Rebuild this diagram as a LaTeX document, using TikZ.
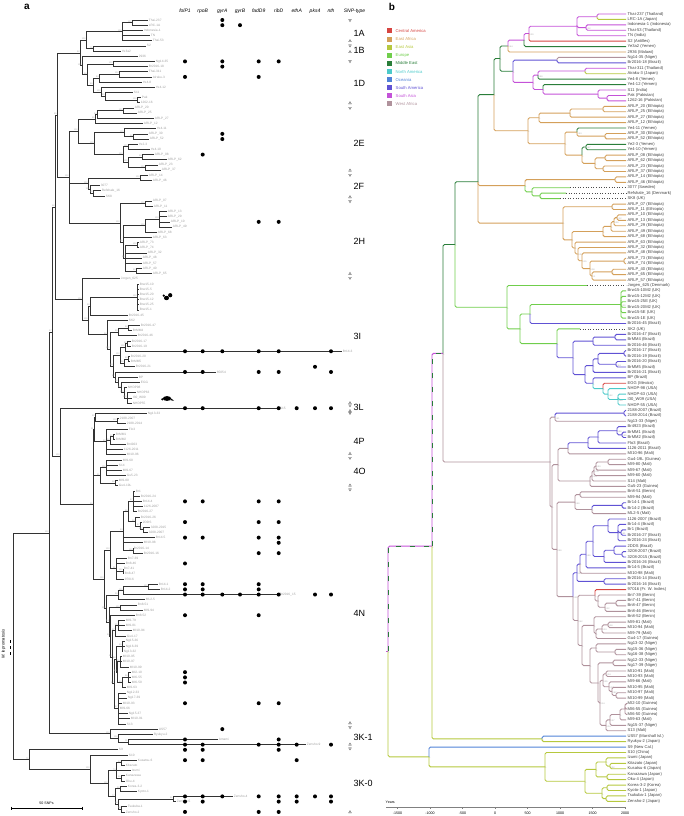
\documentclass[tikz,border=0pt]{standalone}
\usepackage{fontspec}
\setmainfont{Liberation Sans}
\usetikzlibrary{calc}

\definecolor{cam}{RGB}{214,69,65}
\definecolor{eaf}{RGB}{212,160,90}
\definecolor{eas}{RGB}{182,200,62}
\definecolor{eur}{RGB}{112,206,76}
\definecolor{mea}{RGB}{42,126,58}
\definecolor{nam}{RGB}{76,202,202}
\definecolor{oce}{RGB}{80,130,215}
\definecolor{sam}{RGB}{96,82,212}
\definecolor{sas}{RGB}{196,82,216}
\definecolor{waf}{RGB}{176,146,156}

\begin{document}
\begin{tikzpicture}
  [
    x=1pt, y=-1pt,
    panel/.style   = {font=\bfseries\fontsize{10}{12}\selectfont, inner sep=0pt},
    abranch/.style = {draw=black!80, line width=0.7pt},
    asup/.style    = {anchor=south east, font=\fontsize{2.2}{2.5}\selectfont, text=gray!70, inner sep=0.2pt},
    atip/.style    = {anchor=west, font=\fontsize{3.2}{3.5}\selectfont, text=gray!75, inner sep=0.7pt},
    gene/.style    = {font=\itshape\fontsize{5}{6}\selectfont, inner sep=0pt},
    snptype/.style = {anchor=west, font=\fontsize{9}{10}\selectfont, inner sep=0pt},
    snpmark/.style = {draw=gray!60!black, fill=gray!35, line width=0.2pt},
    bbranch/.style = {line width=0.9pt, rounded corners=1.5pt},
    bsup/.style    = {anchor=north west, font=\fontsize{2.2}{2.5}\selectfont, text=gray!70, inner sep=0.2pt},
    btip/.style    = {anchor=west, font=\fontsize{4.1}{4.5}\selectfont, text=black!75, inner sep=0.3pt},
    bdots/.style   = {dotted, line width=0.6pt, black!70},
    legbox/.style  = {minimum size=5pt, inner sep=0pt},
    legtext/.style = {anchor=west, font=\fontsize{4.2}{5}\selectfont, inner sep=0pt},
  ]

  \useasboundingbox (0,0) rectangle (683,816);

  % ================= panel a =================
  \node[panel] (a-tag) at (27,7) {a};

  % SNP columns
  \def\xfol{185}
  \def\xrpo{202.7}
  \def\xgya{222.3}
  \def\xgyb{240}
  \def\xfad{258.7}
  \def\xrib{278.7}
  \def\xeth{296.7}
  \def\xpks{315}
  \def\xnth{331}
  \foreach \xx/\gg in {\xfol/folP1, \xrpo/rpoB, \xgya/gyrA, \xgyb/gyrB, \xfad/fadD9, \xrib/ribD, \xeth/ethA, \xpks/pks4, \xnth/nth}
    \node[gene] (a-h\gg) at (\xx,11) {\gg};
  \node[gene] (a-htype) at (354.5,11) {SNP-type};

  % root and outgroup
  \coordinate (a-R) at (13,{20+5.176*121});
  \draw[dashed, line width=0.6pt] (10,640) -- (10,655);
  \node[rotate=90, font=\itshape\fontsize{4.2}{5}\selectfont, inner sep=0pt] (a-out) at (3.5,644) {M. lepromatosis};

  % internal nodes: name/parent/x/row/bootstrap
  \foreach \nn/\pp/\xx/\rr/\bs in {
    Nmain/R/49/99.1/100, X/Nmain/52/60.25/97, B12I/X/55/36.2/98, B12/B12I/57/18.35/95,
    B1/B12/80/6.35/92, n1AB/B1/86/3.9/100, n1A/n1AB/122/2.25/100, nTL/n1A/132/0.5/100,
    n1B/n1AB/93/5.5/79, n1D/B1/82/8.8/100, n1Db/n1D/87/10.55/98, nNg/n1Db/113/8.5/100,
    n1Dc/n1Db/93/12.6/88, nTA8/n1Dc/99/11.25/94, nTA/nTA8/119/10.5/100, nYe12/n1Dc/101/13.9/100,
    nS11/nYe12/105/14.75/99, nPak/nS11/137/15.5/100,
    B2/B12/69/30.35/100, n2E/B2/78/21.5/100, n2E2/n2E/95/19.1/95, n2E1/n2E2/97/18.25/94,
    n2025/n2E1/123/17.5/100, nA2/n2E/94/23.9/100, nYe11/nA2/124/21.75/100, n3052/nYe11/133/22.5/99,
    nA3/nA2/123/26/100, nYe23/nA3/128/24.5/100, nA4/nA3/128/27.5/100, n0862/nA4/142/26.5/98,
    n2337/nA4/145/28.5/100, n2F/B2/88/31.6/100, nA1446/n2F/140/30.5/100, nAnc/n2F/90/32.75/100,
    nRS/nAnc/93/33.5/99, n2H/B2/120/39.2/100, n0711/n2H/145/35.5/100, nH2/n2H/123/42.9/98,
    n68/nH2/145/39.75/100, n1349/n68/159/38.5/100, nH3/nH2/125/46/98, n7374/nH3/137/43.5/100,
    n4065/nH3/136/48.5/99,
    n3I/B12I/82/54/100, n3Ib/n3I/88/58/100, nBrw45/n3Ib/90/55.25/99, nBrw/nBrw45/137/53.5/100,
    nSK2/n3Ib/107/60.8/98, nBrz/nSK2/110/63.6/100, n46/nBrz/118/60.25/99, n47MM4/n46/128/59.5/99,
    nBrz2/nBrz/113/66.9/99, nBrz1/nBrz2/120/64.75/100, n143/nBrz1/125/63.25/100, n1719/n143/127/62.5/99,
    n21/nBrz1/124/66.25/96, n20MM5/n21/128/65.5/99, n85/nBrz2/115/69/97, nBP/n85/118/70/99,
    nEGG/nBP/121/71/99, nNH/nEGG/124/72/100, nNH2/nNH/127/73/100,
    B34/X/60/84.3/100, n4/B34/93/93.6/95, n4P/n4/94/79.1/91, nP1/n4P/95/76.75/90,
    n2188/nP1/117/77.5/100, nP2/n4P/106/81.5/99, n4923/nP2/110/81.25/99, nMM12/n4923/113/80.5/90,
    n4O/n4/100/88/91, nO1/n4O/106/86.5/100, nO2/n4O/115/89.5/98,
    n4N/n4/104/108/100, nNup/n4N/110/102.4/100, nNc/nNup/123/98.75/93, nNab/nNc/128/95/98,
    nNa/nNab/133/93/97, nNb/nNab/135/96.9/99, nDDS/nNb/140/97.75/97, n3208/nDDS/143/98.5/100,
    n1416/nNc/133/102.5/100, nBn/nNup/116/106/91, n4147/nBn/123/106.5/100,
    nL10/n4N/106/113.7/100, nML/nL10/118/111.1/99, nBr15/nML/123/110.25/100, nBr12/nBr15/148/109.5/100,
    nL9/nL10/109/116.3/94, nB51/nL9/120/113.5/100, nL8/nL9/110/119.05/97, nL7/nL8/112/123.1/94,
    nL2/nL7/115/118/97, nL1/nL2/118/117/95, nL6/nL7/114/128.25/97, nL4/nL6/116/123.5/88,
    nNg3/nL4/122/121/95, nL3/nL4/117/126/94, nMI3/nL3/120/124/90, nMI63/nL3/122/128/99,
    nMI6/nMI63/128/127/99, nL5/nL6/118/133/97,
    n3K1/Nmain/110/137.9/100, nr/n3K1/118/138.75/100, nam/nr/128/139.5/11,
    n3K0all/R/29/142.9/75, n3K0/n3K0all/90/144.75/100, nk0/n3K0/108/147.5/100, nk1/nk0/116/145/74,
    nk2/nk1/121/143.5/94, nk3/nk1/121/146.5/55, nk4/nk0/115/150/77, nk5/nk4/120/148.5/99,
    nk6/nk4/118/151.5/98, nz/nk6/173/150.5/95, nk7/nk6/121/152.5/98}{
    \coordinate (a-\nn) at (\xx,{20+5.176*\rr});
    \draw[abranch] (a-\pp) |- (a-\nn);
    \node[asup] (a-s\nn) at (a-\nn) {\bs};
  }

  % tips: row/parent/x/label
  \foreach \rr/\pp/\xx/\lab in {
    0/nTL/148/Thai-237, 1/nTL/148/LRC-1A, 2/n1A/143/Indonesia-1, 3/n1A/150/TN, 4/n1A/152/Thai-53,
    5/n1B/146/S2, 6/n1B/121/Ye3a2, 7/n1D/138/2936, 8/nNg/155/Ng14-35, 9/nNg/148/Br2016-18,
    10/nTA/148/Thai-311, 11/nTA/152/Airaku-3, 12/nTA8/142/Ye4-8, 13/nYe12/155/Ye4-12, 14/nS11/133/S11,
    15/nPak/141/Pak, 16/nPak/140/1262-16, 17/n2025/134/ARLP\_20, 18/n2025/137/ARLP\_25,
    19/n2E1/154/ARLP\_27, 20/n2E2/143/ARLP\_12, 21/nYe11/156/Ye4-11, 22/n3052/148/ARLP\_30,
    23/n3052/149/ARLP\_52, 24/nYe23/138/Ye2-3, 25/nYe23/150/Ye4-10, 26/n0862/154/ARLP\_08,
    27/n0862/167/ARLP\_62, 28/n2337/158/ARLP\_23, 29/n2337/161/ARLP\_37, 30/nA1446/148/ARLP\_14,
    31/nA1446/152/ARLP\_46, 32/nAnc/100/3077, 33/nRS/101/Refshale\_16, 34/nRS/105/SK8,
    35/n0711/152/ARLP\_07, 36/n0711/153/ARLP\_11, 37/n1349/167/ARLP\_13, 38/n1349/167/ARLP\_29,
    39/n1349/170/ARLP\_10, 40/n1349/172/ARLP\_49, 41/n68/157/ARLP\_68, 42/nH2/152/ARLP\_63,
    43/n7374/139/ARLP\_73, 44/n7374/139/ARLP\_74, 45/nH3/147/ARLP\_32, 46/nH3/142/ARLP\_48,
    47/nH3/142/ARLP\_57, 48/n4065/142/ARLP\_40, 49/n4065/152/ARLP\_65, 50/n3I/120/Jorgen\_625,
    51/nBrw/139/Brw15-10, 52/nBrw/139/Brw15-5, 53/nBrw/139/Brw15-20, 54/nBrw/139/Brw15-12,
    55/nBrw/139/Brw15-25, 56/nBrw/139/Brw15-1, 57/nBrw45/128/Br2016-45, 58/nSK2/128/SK2,
    59/n47MM4/140/Br2016-47, 60/n47MM4/132/BrMM4, 61/n46/137/Br2016-46, 62/n1719/131/Br2016-17,
    63/n1719/131/Br2016-19, 64/n143/342/Br14-3, 65/n20MM5/130/Br2016-20, 66/n20MM5/130/BrMM5,
    67/n21/135/Br2016-21, 68/n85/216/85054, 69/nBP/138/BP, 70/nEGG/140/EGG, 71/nNH/127/NHDP98,
    72/nNH2/136/NHDP63, 73/nNH2/132/I30\_W09, 74/nNH2/132/NHDP55, 75/B34/279/S15,
    76/nP1/147/Ng13-33, 77/n2188/119/2188-2007, 78/n2188/126/2188-2014, 79/nP2/128/Flo3,
    80/nMM12/115/BrMM1, 81/nMM12/115/BrMM2, 82/n4923/126/Br4923, 83/nP2/123/1126-2011,
    84/nP2/126/MI10-96, 85/nO1/122/MI9-60, 86/nO1/118/S14, 87/nO1/122/MI9-67, 88/nO1/126/Gu5-23,
    89/nO2/118/MI9-80, 90/nO2/118/Gu4-19L, 91/nNa/135/Br1, 92/nNa/140/Br2016-24, 93/nNa/142/Br14-4,
    94/nNa/143/1126-2007, 95/nNa/137/Br2016-27, 96/nNb/140/Br2016-26, 97/nDDS/142/2DDS,
    98/n3208/150/3208-2015, 99/n3208/148/3208-2007, 100/nNc/155/Br14-5, 101/nNc/143/MI10-98,
    102/n1416/133/Br2016-14, 103/n1416/143/Br2016-16, 104/nBn/127/Bn7-39, 105/nBn/125/Bn8-46,
    106/n4147/123/Bn7-41, 107/n4147/124/Bn8-47, 108/nBn/124/97016, 109/nBr12/158/Br14-1,
    110/nBr12/160/Br14-2, 111/nBr15/279/Br2016\_15, 112/nML/145/ML2-5, 113/nB51/137/Bn8-51,
    114/nB51/143/MI9-94, 115/nL8/135/Bn8-52, 116/nL1/125/MI9-79, 117/nL1/125/MI9-81,
    118/nL1/132/MI10-94, 119/nL2/126/Gu4-17, 120/nNg3/125/Ng15-36, 121/nNg3/125/Ng16-39,
    122/nNg3/123/Ng13-32, 123/nMI3/122/MI10-95, 124/nMI3/122/MI10-97, 125/nMI3/129/MI10-99,
    126/nMI6/131/MI2-10, 127/nMI6/131/MI6-55, 128/nMI6/131/MI6-50, 129/nMI63/126/MI9-63,
    130/nL5/126/Ng12-33, 131/nL5/127/Ng17-39, 132/nL5/122/MI10-93, 133/nL5/119/MI9-66,
    134/nL5/128/Ng15-37, 135/nL5/130/MI10-91, 136/nL5/126/S13, 137/n3K1/158/US57,
    138/nr/153/Ryukyu-2, 139/nam/218/Amami, 140/nam/306/Zensho-9, 141/n3K0all/118/S9,
    142/n3K0/128/S10, 143/nk2/137/Kusatsu-6, 144/nk2/125/Kitazato, 145/nk1/131/Izumi,
    146/nk3/125/Kanazawa, 147/nk3/125/Oku-4, 148/nk5/127/Korea-3-2, 149/nk5/137/Kyoto-1,
    150/nz/233/Zensho-4, 151/nz/176/Zensho-5, 152/nk7/127/Tsukuba-1, 153/nk7/125/Zensho-2}{
    \coordinate (a-t\rr) at (\xx,{20+5.176*\rr});
    \draw[abranch] (a-\pp) |- (a-t\rr);
    \node[atip] (a-l\rr) at (a-t\rr) {\lab};
  }

  % mutations
  \foreach \rr/\cols in {
    0/{\xgya}, 1/{\xgya,\xgyb}, 8/{\xfol,\xgya,\xfad,\xrib}, 9/{\xgya}, 11/{\xfol,\xfad},
    22/{\xgya}, 23/{\xgya}, 26/{\xrpo}, 39/{\xfad,\xrib},
    64/{\xfol,\xrpo,\xgya,\xfad,\xrib,\xnth}, 67/{\xpks}, 68/{\xfol,\xrpo,\xfad,\xrib,\xnth},
    75/{\xfol,\xrpo,\xfad,\xrib,\xeth,\xpks,\xnth}, 93/{\xfol,\xrpo,\xfad,\xrib}, 97/{\xfol,\xfad,\xrib},
    100/{\xfol,\xrpo,\xfad,\xrib}, 101/{\xrib}, 103/{\xfad,\xrib}, 105/{\xfol},
    109/{\xfol,\xrpo,\xfad}, 110/{\xfol,\xrpo,\xfad}, 111/{\xfol,\xrpo,\xgya,\xgyb,\xfad,\xrib,\xpks,\xnth},
    115/{\xfol,\xfad}, 126/{\xfol}, 127/{\xfol}, 128/{\xfol}, 132/{\xfol,\xfad,\xrib}, 137/{\xgya},
    139/{\xfol,\xrib}, 140/{\xfol,\xrpo,\xfad,\xrib,\xeth,\xnth}, 141/{\xfol,\xrpo,\xrib},
    143/{\xfol,\xrpo,\xeth}, 150/{\xfol,\xrpo,\xgya,\xfad,\xrib,\xeth,\xpks,\xnth},
    151/{\xfol,\xrpo,\xrib,\xeth,\xnth}, 153/{\xfol,\xfad,\xrib}}{
    \foreach \xx in \cols
      \fill (\xx,{20+5.176*\rr}) circle (2);
  }

  % red squirrel and armadillo
  \fill (166.5,298) ellipse (2.6 and 2.2);
  \fill (170.2,295.2) circle (2.1);
  \fill (163.8,295.6) circle (1.3);
  \fill (167,398.5) ellipse (4.2 and 2.4);
  \fill (162.3,399.3) circle (1.2);
  \fill (171,398.5) -- (174,400.6) -- (170.6,400.4) -- cycle;

  % SNP-type ranges
  \foreach \yy/\dd in {20.7/1, 40.7/-1, 46/1, 51.7/-1, 61.7/1, 102.7/-1, 108.3/1, 170/-1,
    175.3/1, 196.7/-1, 201.7/1, 273.3/-1, 278.3/1, 402.7/-1, 405.8/1, 410.6/-1, 413.4/1,
    453.3/-1, 458.3/1, 485/-1, 490/1, 722.7/-1, 727.7/1, 744/-1, 749/1, 811.7/-1}
    \filldraw[snpmark] (348.6,{\yy-1.2*\dd}) -- (351.4,{\yy-1.2*\dd}) -- (350,{\yy+1.2*\dd}) -- cycle;
  \foreach \yy/\lab in {33/1A, 50/1B, 83/1D, 143.3/2E, 186.7/2F, 241.7/2H, 336.7/3I, 407.3/3L,
    441.7/4P, 471.7/4O, 613.3/4N, 737.3/3K-1, 783.3/3K-0}
    \node[snptype] (a-type\lab) at (353.5,\yy) {\lab};

  % scale bar
  \draw[line width=0.6pt] (11,806.5) -- (11,809.5) (11,808) -- (82,808) (82,806.5) -- (82,809.5);
  \node[font=\fontsize{3.6}{4}\selectfont, inner sep=0pt] (a-scale) at (46.5,803) {50 SNPs};

  % ================= panel b =================
  \node[panel] (b-tag) at (392,7) {b};

  % legend
  \foreach \cc/\lab [count=\i] in {cam/Central America, eaf/East Africa, eas/East Asia, eur/Europe,
    mea/Middle East, nam/North America, oce/Oceania, sam/South America, sas/South Asia, waf/West Africa}{
    \node[legbox, fill=\cc] (b-k\i) at (389,{31+8.1*(\i-1)}) {};
    \node[legtext, text=\cc] (b-kt\i) at (395.5,{31+8.1*(\i-1)}) {\lab};
  }

  % mixed-state backbone
  \coordinate (b-R) at (388,{14+5.43*117.4});
  \coordinate (b-432) at (432,{14+5.43*98});
  \coordinate (b-443) at (443,{14+5.43*62.5});
  \draw[bbranch, sas] (b-R) -- ++(-2.5,0);
  \draw[bbranch, sas] (b-R) |- (b-432);
  \draw[bbranch, mea, dash pattern=on 5pt off 9pt] (b-R) |- (b-432);
  \draw[bbranch, sas] (b-432) |- (b-443);
  \draw[bbranch, mea, dash pattern=on 5pt off 9pt] (b-432) |- (b-443);
  \node[bsup] (b-sR) at (b-R) {1};
  \node[bsup] (b-s432) at (b-432) {1};
  \node[bsup] (b-s443) at (b-443) {1};

  % internal nodes: name/parent/x/row/colour/posterior
  \foreach \nn/\pp/\xx/\rr/\cc/\bs in {
    455/443/455/42.45/mea/1, bB12/455/478/30.9/mea/1, bB1E/bB12/494/14.85/mea/1, bB1/bB1E/500/8.2/mea/1,
    1ABm/bB1/508/5.9/mea/0.44, 1AB/1ABm/524/4.8/sas/1, 1AS2/1AB/529/3.6/sas/0.29, 1A/1AS2/577/2.25/sas/1,
    TL/1A/597/0.5/sas/1, IT/1A/586/2.5/sas/0.02, 1Dm/bB1/513/10.55/mea/1, NgBr/1Dm/557/8.5/sam/1,
    SA/1Dm/533/12.6/sas/1, TA8/SA/538/11.25/sas/0.99, TA/TA8/585/10.5/sas/1, Ye12/SA/543/13.9/sas/1,
    S11/Ye12/598/14.75/sas/1, Pak/S11/607/15.5/sas/1,
    2E/bB1E/528/21.5/eaf/1, 12/2E/539/19.1/eaf/1, 27/12/570/18.25/eaf/1, 2025/27/603/17.5/eaf/1,
    A2/2E/565/23.9/eaf/1, Ye11/A2/577/21.75/eaf/0.43, 3052/Ye11/605/22.5/eaf/1, A3/A2/582/26/eaf/1,
    Ye23/A3/586/24.5/mea/0.67, A4/A3/595/27.5/eaf/1, 0862/A4/605/26.5/eaf/1, 2337/A4/603/28.5/eaf/1,
    2F/bB12/525/31.6/eaf/1, 1446/2F/615/30.5/eaf/1, Anc/2F/532/32.75/eur/1, RS/Anc/540/33.5/eur/1,
    2H/bB12/563/38.5/eaf/1, 0711/2H/612/35.5/eaf/1, H1/2H/572/41.6/eaf/1, 68/H1/603/40.05/eaf/1,
    49/68/611/39.1/eaf/1, 29/49/614/38.25/eaf/0.26, 1013/29/617/37.5/eaf/0.32, H2/H1/575/43.1/eaf/1,
    H2b/H2/578/44.2/eaf/0.27, H3/H2b/582/45.45/eaf/0.15, H4/H3/590/46.9/eaf/0.08, 7374/H4/624/45.5/eaf/1,
    H5/H4/592/48.25/eaf/0.1, 4065/H5/612/47.5/eaf/1,
    Eur/455/507/54/eur/1, Eur2/Eur/520/58/eur/1, BrwB/Eur2/530/55.25/eur/1, Brw/BrwB/621/53.5/eur/0.29,
    SK2/Eur2/557/60.7/eur/1, b4/SK2/573/63.3/sam/1, 46/b4/593/60.25/sam/1, MM4/46/615/59.5/sam/1,
    b3/b4/585/66.4/sam/1, b2/b3/593/64.75/sam/1, b1/b2/598/63.5/sam/1, 1719/b1/624/62.5/sam/1,
    20M5/b1/616/64.5/sam/0.54, BP/b3/593/68/sam/1, EGG/BP/603/69/nam/1, NH1/EGG/608/70/nam/0.52,
    NH2/NH1/618/71/nam/0.98,
    4/443/550/82.5/waf/1, 4P1/4/555/74.25/waf/0.41, 2188/4P1/624/73.5/sam/1, 4rest/4/552/90.8/waf/1,
    PO/4rest/558/83/waf/1, P2/PO/568/80/waf/1, 1126/P2/588/78.95/sam/1, Flo/1126/598/77.9/sam/1,
    MM4923/Flo/617/76.75/sam/0.99, MM/MM4923/622/77.5/sam/0.95, O5/PO/590/86/waf/1, O4/O5/592/85.05/waf/0.13,
    O3/O4/594/84.1/waf/0.76, O2/O3/596/83.25/waf/0.93, O1/O2/608/82.5/waf/1,
    N5/4rest/557/98.6/waf/0.99, N1/N5/575/89.9/waf/0.99, B51/N1/580/88.5/waf/1, BrML/N1/592/91.25/waf/1,
    Br12/BrML/622/90.5/sam/1, N4/N5/573/107.3/waf/0.39, Brz/N4/577/102.9/sam/0.22, M98/Brz/580/101.3/sam/1,
    B5/M98/586/99.5/sam/0.99, B4d/B5/593/97.1/sam/1, B4c/B4d/608/94.25/sam/1, B4b/B4c/618/95.5/sam/1,
    B4a/B4b/621/95.5/sam/0.41, B26/B4d/604/99.9/sam/1, DDS/B26/614/98.75/sam/1, 3208/DDS/622/99.5/sam/1,
    1416/Brz/604/104.5/sam/1, M14/N4/578/111.7/waf/0.62, Bn4/M14/595/107.05/waf/1, Bn3/Bn4/598/108.1/waf/1,
    Bn2/Bn3/605/109.25/waf/0.32, Bn1/Bn2/616/108.5/waf/1, M13/M14/582/116.3/waf/1, M4/M13/594/112.6/waf/1,
    M3/M4/596/114.1/waf/1, M2/M3/602/113.25/waf/0.13, M1/M2/608/112.5/waf/0.28, M12/M13/590/120/waf/1,
    Ng2/M12/596/116.75/waf/1, Ng1/Ng2/615/117.5/waf/1, M11/M12/598/123.2/waf/1, Ng3/M11/613/119.5/waf/1,
    M10/M11/600/126.85/waf/0.14, M9/M10/603/122.7/waf/0.35, M8/M9/606/121.5/waf/0.24, M7/M9/609/123.9/waf/0.27,
    M6/M7/612/124.75/waf/0.82, M5/M6/616/125.5/waf/1, G4/M10/606/131/waf/0.04, G3/G4/610/130/waf/0.57,
    G2/G3/620/129/waf/1, G1/G2/625/128/waf/1,
    3K1/432/542/133.5/eas/1, 3K0/R/429/136.8/eas/1, J/3K0/545/138.65/eas/1, J2/J/585/141.3/eas/1,
    Ja/J2/596/139.1/eas/1, Iz/Ja/606/137.75/eas/1, KK/Iz/610/138.5/eas/0.52, KO/Ja/607/140.5/eas/1,
    Jb/J2/602/143.5/eas/1, Kyo/Jb/607/142.5/eas/1, TZ/Jb/606/144.5/eas/1}{
    \coordinate (b-\nn) at (\xx,{14+5.43*\rr});
    \draw[bbranch, \cc] (b-\pp) |- (b-\nn);
    \node[bsup] (b-s\nn) at (b-\nn) {\bs};
  }

  % time axis
  \coordinate (b-ax1) at (386,807);
  \coordinate (b-ax2) at (626,807);
  \draw[gray, line width=0.6pt] (b-ax1) -- (b-ax2);
  \foreach \yr in {-1500,-1000,...,2000}{
    \draw[gray, line width=0.4pt] ({495+0.065*\yr},807) -- ++(0,1.5);
    \node[font=\fontsize{3.6}{4}\selectfont, inner sep=0pt] (b-y\yr) at ({495+0.065*\yr},812.8) {\yr};
  }
  \node[anchor=west, font=\fontsize{3.6}{4}\selectfont, inner sep=0pt] (b-years) at (385.5,802.5) {Years};

  % tips: row/parent/x/colour/label
  \foreach \rr/\pp/\xx/\cc/\lab in {
    0/TL/626/sas/Thai-237 (Thailand), 1/TL/626/eas/LRC-1A (Japan), 2/IT/626/sas/Indonesia-1 (Indonesia),
    3/IT/626/sas/Thai-53 (Thailand), 4/1A/626/sas/TN (India), 5/1AS2/626/cam/S2 (Antilles),
    6/1AB/626/mea/Ye3a2 (Yemen), 7/1ABm/626/eaf/2936 (Malawi), 8/NgBr/626/waf/Ng14-35 (Niger),
    9/NgBr/626/sam/Br2016-18 (Brazil), 10/TA/626/sas/Thai-311 (Thailand), 11/TA/626/eas/Airaku-3 (Japan),
    12/TA8/626/mea/Ye4-8 (Yemen), 13/Ye12/626/mea/Ye4-12 (Yemen), 14/S11/626/sas/S11 (India),
    15/Pak/626/sas/Pak (Pakistan), 16/Pak/626/sas/1262-16 (Pakistan),
    17/2025/626/eaf/ARLP\_20 (Ethiopia), 18/2025/626/eaf/ARLP\_25 (Ethiopia), 19/27/626/eaf/ARLP\_27 (Ethiopia),
    20/12/626/eaf/ARLP\_12 (Ethiopia), 21/Ye11/626/mea/Ye4-11 (Yemen), 22/3052/626/eaf/ARLP\_30 (Ethiopia),
    23/3052/626/eaf/ARLP\_52 (Ethiopia), 24/Ye23/626/mea/Ye2-3 (Yemen), 25/Ye23/626/mea/Ye4-10 (Yemen),
    26/0862/626/eaf/ARLP\_08 (Ethiopia), 27/0862/626/eaf/ARLP\_62 (Ethiopia), 28/2337/626/eaf/ARLP\_23 (Ethiopia),
    29/2337/626/eaf/ARLP\_37 (Ethiopia), 30/1446/626/eaf/ARLP\_14 (Ethiopia), 31/1446/626/eaf/ARLP\_46 (Ethiopia),
    32/Anc/570/eur/3077 (Sweden), 33/RS/566/eur/Refshale\_16 (Denmark), 34/RS/560/eur/SK8 (UK),
    35/0711/626/eaf/ARLP\_07 (Ethiopia), 36/0711/626/eaf/ARLP\_11 (Ethiopia), 37/1013/626/eaf/ARLP\_10 (Ethiopia),
    38/1013/626/eaf/ARLP\_13 (Ethiopia), 39/29/626/eaf/ARLP\_29 (Ethiopia), 40/49/626/eaf/ARLP\_49 (Ethiopia),
    41/68/626/eaf/ARLP\_68 (Ethiopia), 42/H2/626/eaf/ARLP\_63 (Ethiopia), 43/H2b/626/eaf/ARLP\_32 (Ethiopia),
    44/H3/626/eaf/ARLP\_48 (Ethiopia), 45/7374/626/eaf/ARLP\_73 (Ethiopia), 46/7374/626/eaf/ARLP\_74 (Ethiopia),
    47/4065/626/eaf/ARLP\_40 (Ethiopia), 48/4065/626/eaf/ARLP\_65 (Ethiopia), 49/H5/626/eaf/ARLP\_57 (Ethiopia),
    50/Eur/587/eur/Jorgen\_625 (Denmark), 51/Brw/626/eur/Brw15-10M2 (UK), 52/Brw/626/eur/Brw15-12M2 (UK),
    53/Brw/626/eur/Brw15-25E (UK), 54/Brw/626/eur/Brw15-20M2 (UK), 55/Brw/626/eur/Brw15-5E (UK),
    56/Brw/626/eur/Brw15-1E (UK), 57/BrwB/626/sam/Br2016-45 (Brazil), 58/SK2/580/eur/SK2 (UK),
    59/MM4/626/sam/Br2016-47 (Brazil), 60/MM4/626/sam/BrMM4 (Brazil), 61/46/626/sam/Br2016-46 (Brazil),
    62/1719/626/sam/Br2016-17 (Brazil), 63/1719/626/sam/Br2016-19 (Brazil), 64/20M5/626/sam/Br2016-20 (Brazil),
    65/20M5/626/sam/BrMM5 (Brazil), 66/b2/626/sam/Br2016-21 (Brazil), 67/BP/626/sam/BP (Brazil),
    68/EGG/626/cam/EGG (Mexico), 69/NH1/626/nam/NHDP-98 (USA), 70/NH2/626/nam/NHDP-63 (USA),
    71/NH2/626/nam/I30\_W09 (USA), 72/NH2/626/nam/NHDP-55 (USA), 73/2188/626/sam/2188-2007 (Brazil),
    74/2188/626/sam/2188-2014 (Brazil), 75/4P1/626/waf/Ng13-33 (Niger), 76/MM4923/626/sam/Br4923 (Brazil),
    77/MM/626/sam/BrMM1 (Brazil), 78/MM/626/sam/BrMM2 (Brazil), 79/Flo/626/sam/Flo3 (Brazil),
    80/1126/626/sam/1126-2011 (Brazil), 81/P2/626/waf/MI10-96 (Mali), 82/O1/626/waf/Gu4-19L (Guinea),
    83/O1/626/waf/MI9-80 (Mali), 84/O2/626/waf/MI9-67 (Mali), 85/O3/626/waf/MI9-60 (Mali),
    86/O4/626/waf/S14 (Mali), 87/O5/626/waf/Gu5-23 (Guinea), 88/B51/626/waf/Bn8-51 (Benin),
    89/B51/626/waf/MI9-94 (Mali), 90/Br12/626/sam/Br14-1 (Brazil), 91/Br12/626/sam/Br14-2 (Brazil),
    92/BrML/626/waf/ML2-5 (Mali), 93/B4c/626/sam/1126-2007 (Brazil), 94/B4b/626/sam/Br14-4 (Brazil),
    95/B4a/626/sam/Br1 (Brazil), 96/B4a/626/sam/Br2016-27 (Brazil), 97/B4b/626/sam/Br2016-24 (Brazil),
    98/DDS/626/sam/2DDS (Brazil), 99/3208/626/sam/3208-2007 (Brazil), 100/3208/626/sam/3208-2015 (Brazil),
    101/B26/626/sam/Br2016-26 (Brazil), 102/B5/626/sam/Br14-5 (Brazil), 103/M98/626/waf/MI10-98 (Mali),
    104/1416/626/sam/Br2016-14 (Brazil), 105/1416/626/sam/Br2016-16 (Brazil),
    106/Bn4/626/cam/97016 (Fr. W. Indies), 107/Bn3/626/waf/Bn7-39 (Benin), 108/Bn1/626/waf/Bn7-41 (Benin),
    109/Bn1/626/waf/Bn8-47 (Benin), 110/Bn2/626/waf/Bn8-46 (Benin), 111/M4/626/waf/Bn8-52 (Benin),
    112/M1/626/waf/MI9-81 (Mali), 113/M1/626/waf/MI10-94 (Mali), 114/M2/626/waf/MI9-79 (Mali),
    115/M3/626/waf/Gu4-17 (Guinea), 116/Ng2/626/waf/Ng13-32 (Niger), 117/Ng1/626/waf/Ng15-36 (Niger),
    118/Ng1/626/waf/Ng16-38 (Niger), 119/Ng3/626/waf/Ng12-33 (Niger), 120/Ng3/626/waf/Ng17-39 (Niger),
    121/M8/626/waf/MI10-91 (Mali), 122/M8/626/waf/MI10-93 (Mali), 123/M7/626/waf/MI9-66 (Mali),
    124/M6/626/waf/MI10-95 (Mali), 125/M5/626/waf/MI10-97 (Mali), 126/M5/626/waf/MI10-99 (Mali),
    127/G1/626/waf/MI2-10 (Guinea), 128/G1/626/waf/MI6-55 (Guinea), 129/G1/626/waf/MI6-50 (Guinea),
    130/G2/626/waf/MI9-63 (Mali), 131/G3/626/waf/Ng15-37 (Niger), 132/G4/626/waf/S13 (Mali),
    133/3K1/626/oce/US57 (Marshall Isl.), 134/3K1/626/eas/Ryukyu-2 (Japan), 135/3K0/626/oce/S9 (New Cal.),
    136/J/626/eas/S10 (China), 137/Iz/626/eas/Izumi (Japan), 138/KK/626/eas/Kitazato (Japan),
    139/KK/626/eas/Kusatsu-6 (Japan), 140/KO/626/eas/Kanazawa (Japan), 141/KO/626/eas/Oku-4 (Japan),
    142/Kyo/626/eas/Korea-3-2 (Korea), 143/Kyo/626/eas/Kyoto-1 (Japan), 144/TZ/626/eas/Tsukuba-1 (Japan),
    145/TZ/626/eas/Zensho-2 (Japan)}{
    \coordinate (b-t\rr) at (\xx,{14+5.43*\rr});
    \draw[bbranch, \cc] (b-\pp) |- (b-t\rr);
    \node[btip] (b-l\rr) at ([xshift=1.2pt]b-t\rr -| b-ax2) {\lab};
  }

  % ancient samples
  \foreach \rr in {32,33,34,50,58}
    \draw[bdots] (b-t\rr) -- (b-t\rr -| b-ax2);
\end{tikzpicture}
\end{document}
